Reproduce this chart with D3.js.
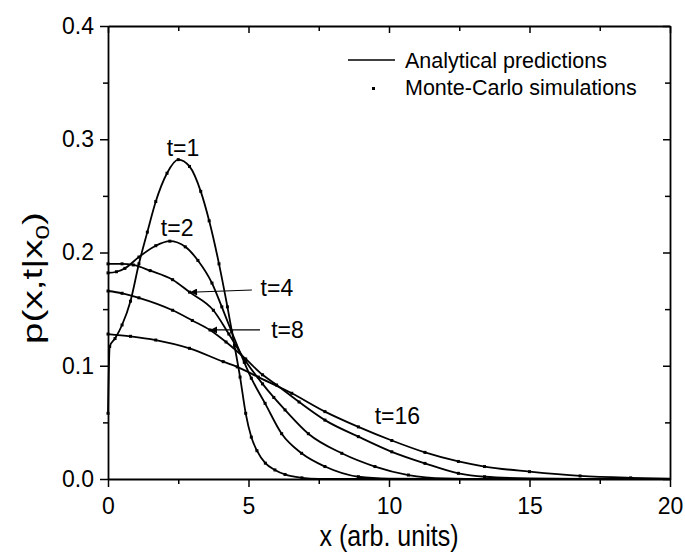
<!DOCTYPE html>
<html><head><meta charset="utf-8">
<script src="https://cdn.jsdelivr.net/npm/d3@7/dist/d3.min.js"></script>
<style>
body{margin:0;background:#fff}
text{font-family:"Liberation Sans",Arial,sans-serif;fill:#000}
</style>
</head><body>
<svg id="c" width="685" height="554"></svg>
<script>
// ---- data ----
const xTicks = [0, 5, 10, 15, 20];
const xMinor = [2.5, 7.5, 12.5, 17.5];
const yTicks = [0.0, 0.1, 0.2, 0.3, 0.4];
const yMinor = [0.05, 0.15, 0.25, 0.35];
const seriesNames = ["t=1", "t=2", "t=4", "t=8", "t=16"];

const x_t1 = [0, 0.06, 0.25, 0.5, 0.8, 1.1, 1.4, 1.7, 2.1, 2.5, 2.9, 3.3, 3.6, 3.95, 4.25, 4.5, 4.7, 4.9, 5.1, 5.3, 5.6, 5.94, 6.3, 6.9, 7.5, 10, 15, 20];
const p_t1 = [0.058, 0.117, 0.124, 0.136, 0.157, 0.19, 0.218, 0.245, 0.27, 0.282, 0.276, 0.254, 0.228, 0.19, 0.152, 0.118, 0.09, 0.058, 0.037, 0.025, 0.014, 0.008, 0.004, 0.001, 0, 0, 0, 0];

const x_t2 = [0, 0.3, 0.6, 1.1, 1.7, 2.2, 2.75, 3.2, 3.7, 4.05, 4.4, 4.85, 5.1, 5.59, 6.18, 6.89, 7.72, 8.91, 10, 12, 20];
const p_t2 = [0.182, 0.183, 0.186, 0.196, 0.206, 0.21, 0.205, 0.193, 0.173, 0.152, 0.13, 0.103, 0.089, 0.0668, 0.040, 0.0227, 0.011, 0.002, 0.0003, 0, 0];

const x_t4 = [0, 0.5, 0.9, 1.5, 2.3, 2.9, 3.75, 4.3, 4.9, 5.5, 5.9, 6.3, 7.13, 8.32, 9.5, 10.69, 12, 13.5, 20];
const p_t4 = [0.19, 0.19, 0.189, 0.184, 0.176, 0.165, 0.149, 0.128, 0.104, 0.084, 0.072, 0.061, 0.040, 0.0227, 0.011, 0.0035, 0.0005, 0, 0];

const x_t8 = [0, 0.5, 1.1, 2.3, 3.0, 3.63, 4.2, 4.9, 5.5, 6.0, 6.8, 7.72, 8.91, 10.1, 11.28, 12.47, 13.4, 15, 17, 20];
const p_t8 = [0.166, 0.164, 0.16, 0.149, 0.14, 0.1316, 0.121, 0.106, 0.092, 0.083, 0.068, 0.052, 0.0374, 0.024, 0.0138, 0.005, 0.002, 0.0005, 0.0001, 0];

const x_t16 = [0, 0.8, 1.7, 2.9, 4.1, 4.6, 5.35, 6.54, 7.72, 8.91, 10.1, 11.28, 12.47, 13.4, 15, 16.8, 18.6, 20];
const p_t16 = [0.128, 0.126, 0.1227, 0.1154, 0.1036, 0.099, 0.090, 0.0757, 0.0595, 0.046, 0.034, 0.0235, 0.0155, 0.011, 0.0065, 0.0027, 0.001, 0.0003];

const seriesX = [x_t1, x_t2, x_t4, x_t8, x_t16];
const seriesP = [p_t1, p_t2, p_t4, p_t8, p_t16];

// curve label anchors (data coords)
const labelX = [2.67, 2.46, 6.01, 6.39, 10.30];
const labelP = [0.292, 0.2216, 0.1687, 0.1316, 0.0555];
// arrows for t=4 and t=8: [tailX, tailP, tipX, tipP]
const arrowT4 = [5.12, 0.1669, 2.92, 0.1649];
const arrowT8 = [5.41, 0.1316, 3.63, 0.1316];

const legendLabels = ["Analytical predictions", "Monte-Carlo simulations"];
const xTitle = "x (arb. units)";

// ---- drawing ----
const svg = d3.select("#c");
const L = 108, R = 670, T = 26, B = 479;
const x = d3.scaleLinear().domain([0, 20]).range([L, R]);
const y = d3.scaleLinear().domain([0, 0.4]).range([B, T]);

const defs = svg.append("defs");
defs.append("marker").attr("id", "ah").attr("viewBox", "0 0 10 10")
  .attr("refX", 10).attr("refY", 5).attr("markerWidth", 10).attr("markerHeight", 7)
  .attr("markerUnits", "userSpaceOnUse").attr("orient", "auto")
  .append("path").attr("d", "M0,0 L10,5 L0,10 z").attr("fill", "#000");

const line = d3.line().x(d => x(d[0])).y(d => y(d[1])).curve(d3.curveMonotoneX);
const plot = svg.append("g");
seriesX.forEach((xs, i) => {
  const pts = xs.map((v, j) => [v, seriesP[i][j]]);
  plot.append("path").attr("d", line(pts)).attr("fill", "none")
    .attr("stroke", "#000").attr("stroke-width", 1.8);
  plot.selectAll(null).data(pts.filter(d => d[1] > 0.0005)).enter().append("rect")
    .attr("x", d => x(d[0]) - 1.5).attr("y", d => y(d[1]) - 1.5)
    .attr("width", 3).attr("height", 3).attr("fill", "#000");
});

function styleAxis(g) {
  g.selectAll("path.domain").attr("stroke", "#000").attr("stroke-width", 1.8);
  g.selectAll(".tick line").attr("stroke", "#000").attr("stroke-width", 1.5);
  g.selectAll(".tick text").style("font-size", "23px").style("font-family", '"Liberation Sans",Arial,sans-serif');
}

// bottom
const gB = svg.append("g").attr("transform", `translate(0,${B})`)
  .call(d3.axisBottom(x).tickValues(xTicks).tickSize(8).tickSizeOuter(0).tickPadding(11).tickFormat(d3.format("d")));
styleAxis(gB);
const gBm = svg.append("g").attr("transform", `translate(0,${B})`)
  .call(d3.axisBottom(x).tickValues(xMinor).tickSize(5).tickFormat(""));
styleAxis(gBm); gBm.select(".domain").remove();
// left
const gL = svg.append("g").attr("transform", `translate(${L},0)`)
  .call(d3.axisLeft(y).tickValues(yTicks).tickSize(8).tickSizeOuter(0).tickPadding(6).tickFormat(d3.format(".1f")));
styleAxis(gL);
const gLm = svg.append("g").attr("transform", `translate(${L},0)`)
  .call(d3.axisLeft(y).tickValues(yMinor).tickSize(5).tickFormat(""));
styleAxis(gLm); gLm.select(".domain").remove();
// top (inward)
const gT = svg.append("g").attr("transform", `translate(0,${T})`)
  .call(d3.axisTop(x).tickValues(xTicks).tickSize(-7).tickSizeOuter(0).tickFormat(""));
styleAxis(gT);
const gTm = svg.append("g").attr("transform", `translate(0,${T})`)
  .call(d3.axisTop(x).tickValues(xMinor).tickSize(-5).tickFormat(""));
styleAxis(gTm); gTm.select(".domain").remove();
// right (inward)
const gR = svg.append("g").attr("transform", `translate(${R},0)`)
  .call(d3.axisRight(y).tickValues(yTicks).tickSize(-7).tickSizeOuter(0).tickFormat(""));
styleAxis(gR);
const gRm = svg.append("g").attr("transform", `translate(${R},0)`)
  .call(d3.axisRight(y).tickValues(yMinor).tickSize(-5).tickFormat(""));
styleAxis(gRm); gRm.select(".domain").remove();

// axis titles
svg.append("text").attr("transform", `translate(${x(10)},546) scale(1,1.15)`)
  .attr("text-anchor", "middle").style("font-size", "25px").text(xTitle);
const yt = svg.append("text").attr("transform", `translate(42,278) rotate(-90) scale(1.38,1)`)
  .attr("text-anchor", "middle").style("font-size", "28px");
yt.append("tspan").text("p(x,t|x");
yt.append("tspan").attr("dy", 7).style("font-size", "19px").text("0");
yt.append("tspan").attr("dy", -7).text(")");

// curve labels
seriesNames.forEach((n, i) => {
  svg.append("text").attr("x", x(labelX[i])).attr("y", y(labelP[i])).attr("dy", "0.35em")
    .attr("text-anchor", "middle").style("font-size", "23px").text(n);
});
[arrowT4, arrowT8].forEach(a => {
  svg.append("line").attr("x1", x(a[0])).attr("y1", y(a[1])).attr("x2", x(a[2])).attr("y2", y(a[3]))
    .attr("stroke", "#000").attr("stroke-width", 1.2).attr("marker-end", "url(#ah)");
});

// legend
const lg = svg.append("g");
lg.append("line").attr("x1", 348).attr("x2", 395).attr("y1", 60).attr("y2", 60)
  .attr("stroke", "#000").attr("stroke-width", 1.7);
lg.append("rect").attr("x", 372).attr("y", 87).attr("width", 3).attr("height", 3).attr("fill", "#000");
legendLabels.forEach((t, i) => {
  lg.append("text").attr("x", 405).attr("y", 60 + i * 27).attr("dy", "0.35em")
    .style("font-size", "21.5px").text(t);
});
</script>
</body></html>
